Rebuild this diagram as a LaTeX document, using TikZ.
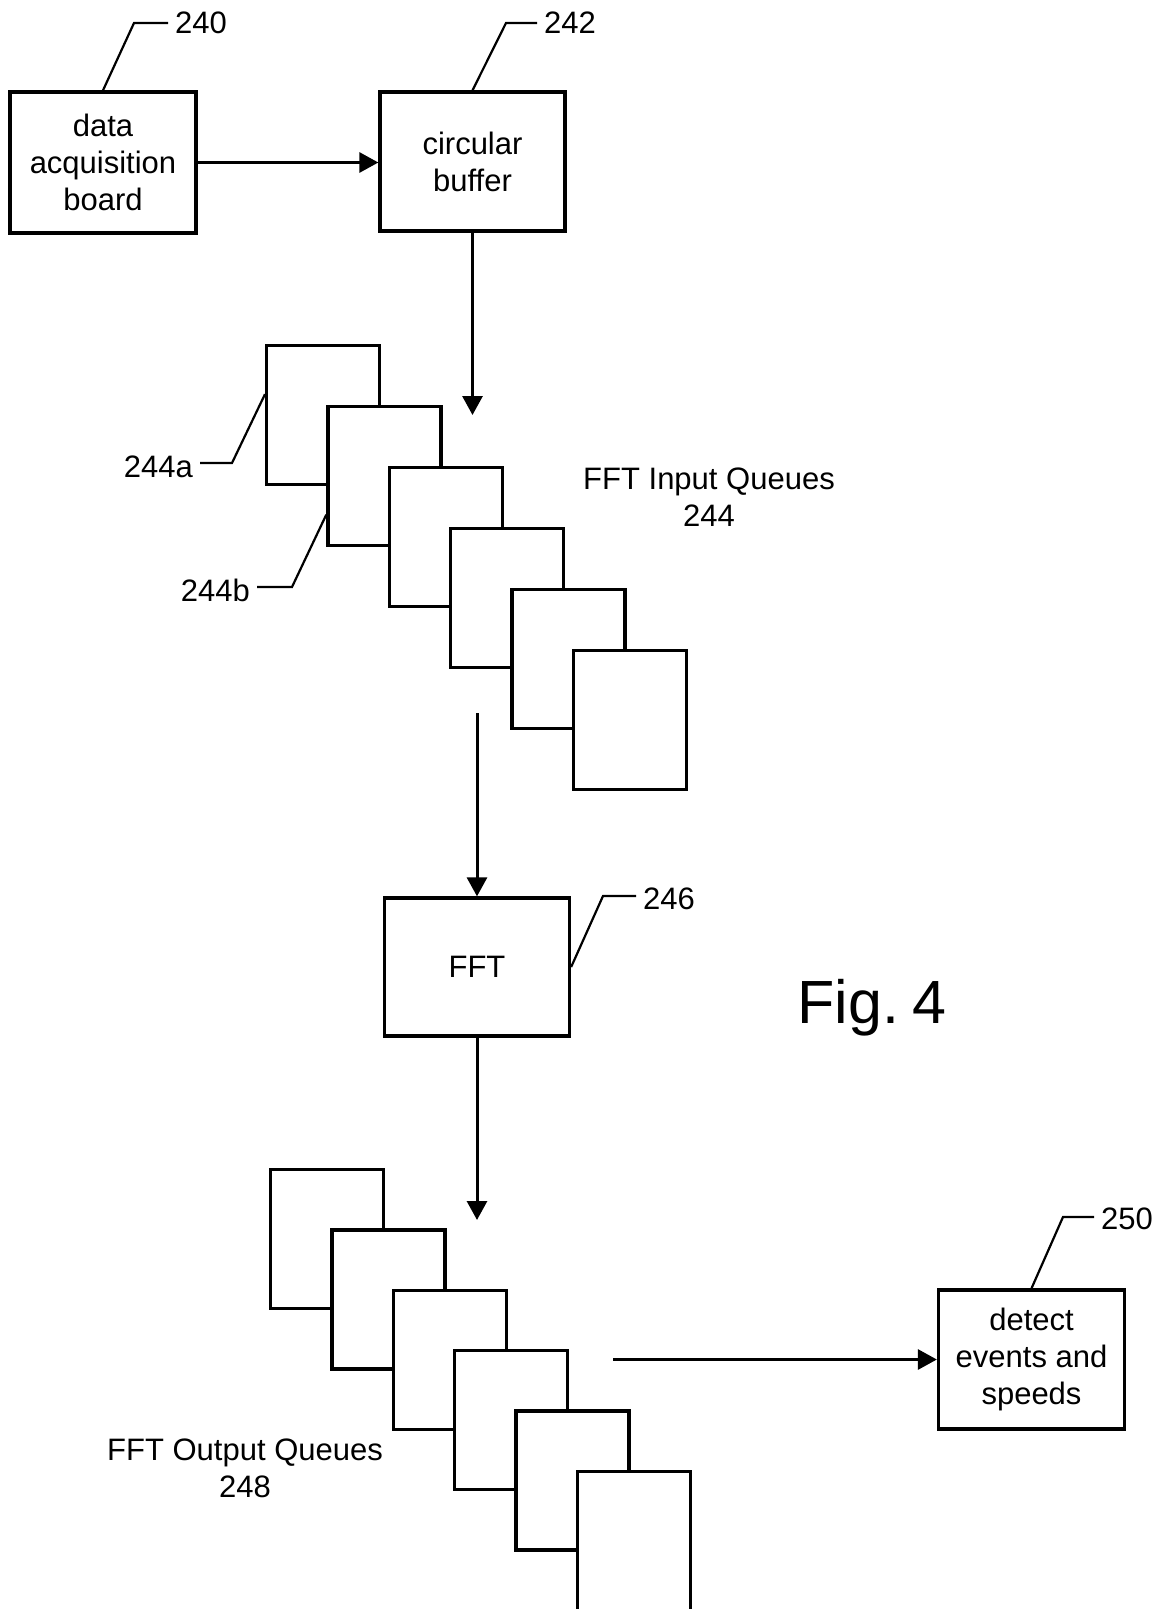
\documentclass[tikz,border=0pt]{standalone}
\usepackage{fontspec}
\setmainfont{Liberation Sans}
\usetikzlibrary{arrows.meta}
\begin{document}
\begin{tikzpicture}[x=1pt,y=-1pt,
  txt/.style={font=\fontsize{31}{37}\selectfont, inner sep=0pt, align=center},
  box/.style={draw, line width=3.3pt, rectangle, inner sep=0pt, align=center, font=\fontsize{31}{37}\selectfont},
  queue/.style={draw, line width=3.3pt, fill=white, rectangle, inner sep=0pt, minimum width=113pt, minimum height=139pt, anchor=north west},
  arr/.style={line width=3pt, -{Triangle[length=19pt,width=20pt]}},
  leader/.style={line width=2.2pt}
]
\useasboundingbox (0,0) rectangle (1172,1609);
\fill[white] (0,0) rectangle (1172,1609);

% top boxes
\node[box, minimum width=186pt, minimum height=141pt] (b240) at (103,162.5) {data\\acquisition\\board};
\node[box, minimum width=185pt, minimum height=139pt] (b242) at (472.5,161.5) {circular\\buffer};
\draw[arr] (b240.east) -- (b240.east -| b242.west);

% labels 240 / 242
\coordinate (k240) at (134,23);
\coordinate (e240) at (168,23);
\node[txt, anchor=west] (l240) at (175,23) {240};
\draw[leader] (b240.north) -- (k240) -- (e240);
\coordinate (k242) at (506,23);
\coordinate (e242) at (537,23);
\node[txt, anchor=west] (l242) at (544,23) {242};
\draw[leader] (b242.north) -- (k242) -- (e242);

% arrow into input queues
\coordinate (inq) at (472.5,415);
\draw[arr] (b242.south) -- (inq);

% FFT input queues
\foreach \i in {0,...,5} {
  \node[queue] (qi\i) at (265+61.3*\i, 344+61*\i) {};
}
\node[txt] (tin) at (709,497) {FFT Input Queues\\244};

% 244a / 244b
\coordinate (a244k) at (232,463);
\coordinate (a244e) at (200,463);
\node[txt, anchor=east] (l244a) at (193,467) {244a};
\draw[leader] ([yshift=21pt]qi0.west) -- (a244k) -- (a244e);
\coordinate (b244k) at (292,587);
\coordinate (b244e) at (257,587);
\node[txt, anchor=east] (l244b) at (250,590) {244b};
\draw[leader] ([yshift=-38.5pt]qi1.west) -- (b244k) -- (b244e);

% FFT box
\node[box, minimum width=185pt, minimum height=138pt] (fft) at (477,967) {FFT};
\coordinate (inqout) at (477,713);
\draw[arr] (inqout) -- (fft.north);
\coordinate (k246) at (603,896);
\coordinate (e246) at (636,896);
\node[txt, anchor=west] (l246) at (643,899) {246};
\draw[leader] (fft.east) -- (k246) -- (e246);

% Fig. 4
\node[inner sep=0pt, font=\fontsize{61}{70}\selectfont] (fig) at (872,1008) {Fig.\hspace{0.22em}4};

% arrow into output queues
\coordinate (outq) at (477,1220);
\draw[arr] (fft.south) -- (outq);

% FFT output queues
\foreach \i in {0,...,5} {
  \node[queue] (qo\i) at (269+61.3*\i, 1168+60.3*\i) {};
}
\node[txt] (tout) at (245,1468) {FFT Output Queues\\248};

% detect box
\node[box, minimum width=186pt, minimum height=139pt] (b250) at (1031.5,1359.5) {detect\\events and\\speeds};
\coordinate (outqs) at (613,1359.5);
\draw[arr] (outqs) -- (b250.west);
\coordinate (k250) at (1063,1217);
\coordinate (e250) at (1094,1217);
\node[txt, anchor=west] (l250) at (1101,1219) {250};
\draw[leader] (b250.north) -- (k250) -- (e250);
\end{tikzpicture}
\end{document}
